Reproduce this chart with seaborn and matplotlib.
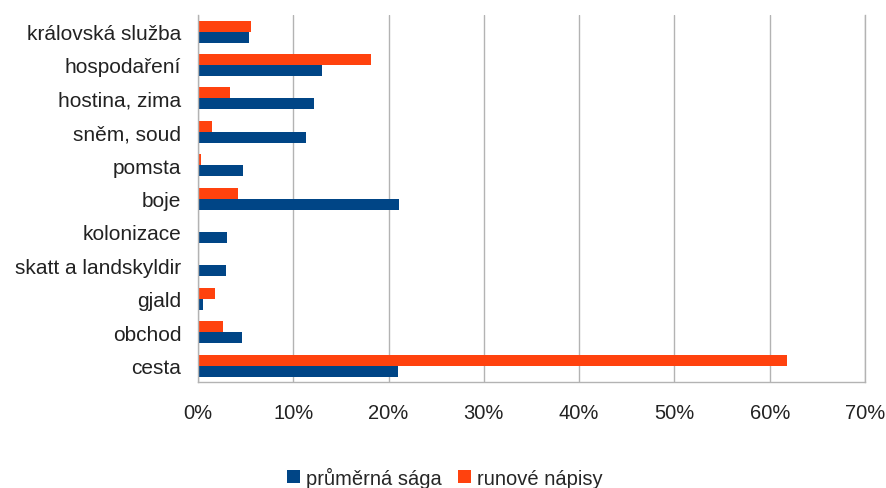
import matplotlib
matplotlib.use("Agg")
import matplotlib.pyplot as plt
from matplotlib.patches import Patch
from matplotlib.ticker import FuncFormatter, MultipleLocator
import numpy as np
import pandas as pd
import seaborn as sns

categories = ["královská služba", "hospodaření", "hostina, zima", "sněm, soud", "pomsta",
              "boje", "kolonizace", "skatt a landskyldir", "gjald", "obchod", "cesta"]
saga = [5.3, 13.0, 12.2, 11.3, 4.7, 21.1, 3.0, 2.9, 0.5, 4.6, 21.0]
runes = [5.6, 18.2, 3.4, 1.5, 0.3, 4.2, 0.0, 0.0, 1.8, 2.6, 61.8]
series = ["průměrná sága", "runové nápisy"]
colors = {"průměrná sága": "#004586", "runové nápisy": "#FF420E"}

df = pd.DataFrame({
    "kategorie": categories * 2,
    "podíl": saga + runes,
    "zdroj": [series[0]] * len(categories) + [series[1]] * len(categories),
})

sns.set_style("white")
plt.rcParams["font.family"] = ["Liberation Sans", "DejaVu Sans"]

fig = plt.figure(figsize=(8.87, 4.89), dpi=100)
ax = fig.add_axes([198 / 887, 1 - 383.3 / 489, (865 - 198) / 887, (383.3 - 15.9) / 489])

sns.barplot(data=df, y="kategorie", x="podíl", hue="zdroj", order=categories,
            hue_order=[series[1], series[0]], palette=colors, orient="h",
            width=0.66, saturation=1, ax=ax, legend=False, edgecolor="none")

ax.set_xlim(0, 70)
ax.set_ylim(len(categories) - 0.5, -0.5)
ax.xaxis.set_major_locator(MultipleLocator(10))
ax.xaxis.set_major_formatter(FuncFormatter(lambda v, p: f"{v:.0f}%"))
ax.set_xlabel("")
ax.set_ylabel("")

grid_c = "#b3b3b3"
ax.grid(axis="x", color=grid_c, linewidth=1)
ax.set_axisbelow(True)
ax.spines["top"].set_visible(False)
for side in ["left", "bottom", "right"]:
    ax.spines[side].set_color(grid_c)
    ax.spines[side].set_linewidth(1)

ax.tick_params(axis="x", which="major", length=7, color=grid_c, width=1,
               labelsize=14.5, pad=8, labelcolor="#222222")
ax.tick_params(axis="y", which="major", length=0, labelsize=15, pad=12,
               labelcolor="#222222")
ax.set_yticks(np.arange(-0.5, len(categories) + 0.5, 1), minor=True)
ax.tick_params(axis="y", which="minor", length=7, color=grid_c, width=1)

handles = [Patch(facecolor=colors[s], edgecolor="none", label=s) for s in series]
fig.legend(handles=handles, loc="center", bbox_to_anchor=(445 / 887, 1 - 478 / 489), ncol=2,
           frameon=False, fontsize=14.5, handlelength=0.65, handleheight=0.65,
           handletextpad=0.3, columnspacing=0.8, borderpad=0)

fig.savefig("out.png", dpi=100)
